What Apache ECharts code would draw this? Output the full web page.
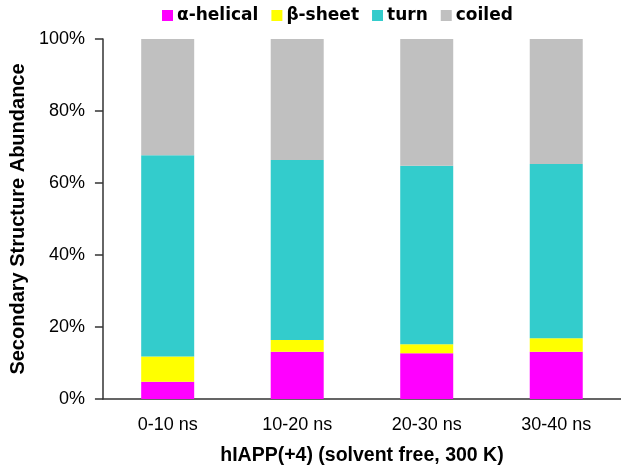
<!DOCTYPE html>
<html><head><meta charset="utf-8">
<script src="https://cdn.jsdelivr.net/npm/echarts@6/dist/echarts.min.js"></script>
<style>html,body{margin:0;padding:0;background:#fff}#c{width:621px;height:472px}</style>
</head><body><div id="c"></div>
<script>
const categories = ['0-10 ns', '10-20 ns', '20-30 ns', '30-40 ns'];
const seriesNames = ['α-helical', 'β-sheet', 'turn', 'coiled'];
const alphaHelical = [4.8, 13.1, 12.7, 13.1];
const betaSheet = [7.0, 3.3, 2.5, 3.8];
const turn = [55.9, 50.0, 49.6, 48.4];
const coiled = [32.3, 33.6, 35.2, 34.7];
const yTicks = [0, 20, 40, 60, 80, 100];
const colors = ['#FF00FF', '#FFFF00', '#33CCCC', '#C0C0C0'];

const chart = echarts.init(document.getElementById('c'), null, {renderer: 'canvas'});
const values = [alphaHelical, betaSheet, turn, coiled];
chart.setOption({
  animation: false,
  textStyle: {fontFamily: 'Liberation Sans, Arial, sans-serif'},
  legend: {
    top: 2, left: 157,
    itemWidth: 11, itemHeight: 11, itemGap: 13,
    icon: 'rect',
    textStyle: {fontSize: 17, fontWeight: 'bold', color: '#000',
      fontFamily: 'DejaVu Sans', padding: [0, 0, 0, -1]},
    data: seriesNames
  },
  grid: {left: 99, width: 526, top: 39, height: 360},
  xAxis: {
    type: 'category', data: categories,
    axisLine: {lineStyle: {color: '#333', width: 1.5}},
    axisTick: {show: false},
    axisLabel: {color: '#000', fontSize: 18, margin: 17},
    name: 'hIAPP(+4) (solvent free, 300 K)',
    nameLocation: 'middle', nameGap: 47,
    nameTextStyle: {fontSize: 19.5, fontWeight: 'bold', color: '#000'}
  },
  yAxis: {
    type: 'value', min: 0, max: 100, interval: 20,
    axisLine: {show: true, lineStyle: {color: '#333', width: 1.5}},
    axisTick: {show: true, length: 8, lineStyle: {color: '#333', width: 1.5}},
    splitLine: {show: false},
    axisLabel: {color: '#000', fontSize: 18, margin: 18,
      formatter: v => yTicks.includes(v) ? v + '%' : ''},
    name: 'Secondary Structure Abundance',
    nameLocation: 'middle', nameGap: 68,
    nameTextStyle: {fontSize: 20, fontWeight: 'bold', color: '#000'}
  },
  series: seriesNames.map((n, i) => ({
    name: n, type: 'bar', stack: 'total', barWidth: 53,
    itemStyle: {color: colors[i]},
    data: values[i]
  }))
});
</script></body></html>
